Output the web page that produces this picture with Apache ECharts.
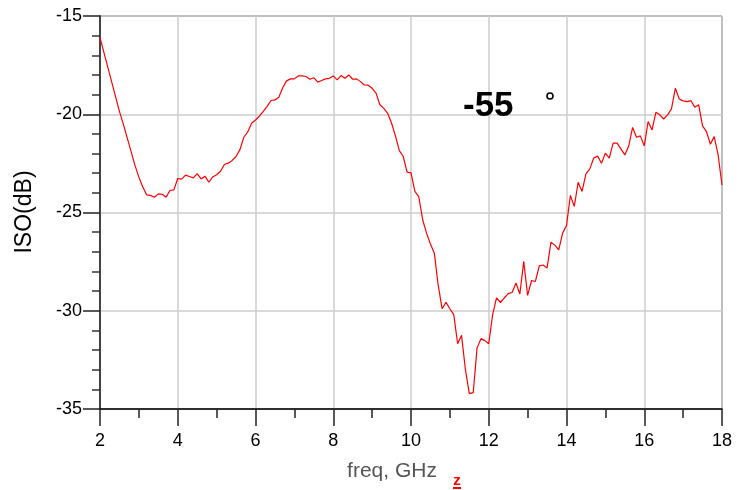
<!DOCTYPE html>
<html>
<head>
<meta charset="utf-8">
<script src="https://cdn.jsdelivr.net/npm/echarts@6/dist/echarts.min.js"></script>
<style>
html,body{margin:0;padding:0;background:#fff;}
#chart{width:749px;height:490px;}
</style>
</head>
<body>
<div id="chart"></div>
<script>
var freqGHz = [2.0,2.1,2.2,2.3,2.4,2.5,2.6,2.7,2.8,2.9,3.0,3.1,3.2,3.3,3.4,3.5,3.6,3.7,3.8,3.9,
4.0,4.1,4.2,4.3,4.4,4.5,4.6,4.7,4.8,4.9,5.0,5.1,5.2,5.3,5.4,5.5,5.6,5.7,5.8,5.9,
6.0,6.1,6.2,6.3,6.4,6.5,6.6,6.7,6.8,6.9,7.0,7.1,7.2,7.3,7.4,7.5,7.6,7.7,7.8,7.9,
8.0,8.1,8.2,8.3,8.4,8.5,8.6,8.7,8.8,8.9,9.0,9.1,9.2,9.3,9.4,9.5,9.6,9.7,9.8,9.9,
10.0,10.1,10.2,10.3,10.4,10.5,10.6,10.7,10.8,10.9,11.0,11.1,11.2,11.3,11.4,11.5,11.6,11.7,11.8,11.9,
12.0,12.1,12.2,12.3,12.4,12.5,12.6,12.7,12.8,12.9,13.0,13.1,13.2,13.3,13.4,13.5,13.6,13.7,13.8,13.9,
14.0,14.1,14.2,14.3,14.4,14.5,14.6,14.7,14.8,14.9,15.0,15.1,15.2,15.3,15.4,15.5,15.6,15.7,15.8,15.9,
16.0,16.1,16.2,16.3,16.4,16.5,16.6,16.7,16.8,16.9,17.0,17.1,17.2,17.3,17.4,17.5,17.6,17.7,17.8,17.9,18.0];

var isoDB = [-16.1,-16.85,-17.6,-18.35,-19.1,-19.85,-20.5,-21.2,-21.9,-22.6,-23.2,-23.7,-24.1,-24.13,-24.22,-24.05,-24.07,-24.22,-23.88,-23.85,
-23.27,-23.3,-23.1,-23.17,-23.24,-23.02,-23.29,-23.15,-23.46,-23.19,-23.08,-22.9,-22.56,-22.49,-22.35,-22.15,-21.8,-21.17,-20.9,-20.46,
-20.29,-20.1,-19.85,-19.6,-19.3,-19.27,-19.13,-18.65,-18.3,-18.2,-18.2,-18.05,-18.05,-18.08,-18.22,-18.14,-18.37,-18.28,-18.2,-18.17,
-18.05,-18.25,-18.03,-18.17,-18.0,-18.22,-18.2,-18.34,-18.51,-18.52,-18.68,-18.92,-19.52,-19.7,-19.95,-20.46,-21.1,-21.85,-22.15,-22.95,
-22.98,-23.93,-24.19,-25.37,-26.05,-26.6,-27.07,-28.7,-29.9,-29.57,-29.9,-30.2,-31.68,-31.25,-33.0,-34.22,-34.17,-31.89,-31.42,-31.52,
-31.68,-30.2,-29.35,-29.58,-29.35,-29.13,-29.07,-28.59,-29.15,-27.49,-29.22,-28.46,-28.51,-27.72,-27.67,-27.83,-26.51,-26.66,-26.9,-26.05,
-25.66,-24.13,-24.69,-23.46,-23.93,-23.03,-22.78,-22.23,-22.13,-22.49,-21.98,-22.23,-21.47,-21.47,-21.76,-22.07,-21.62,-20.67,-21.17,-21.1,
-21.61,-20.37,-20.8,-19.9,-20.03,-20.24,-20.03,-19.73,-18.68,-19.22,-19.32,-19.36,-19.31,-19.64,-19.52,-20.59,-20.88,-21.52,-21.14,-22.07,-23.6];

var xTicks = [2,4,6,8,10,12,14,16,18];
var yTicks = [-35,-30,-25,-20,-15];
var markerText = '-55';
var xTitle = 'freq, GHz';
var yTitle = 'ISO(dB)';

var points = freqGHz.map(function(f, i){ return [f, isoDB[i]]; });
var FONT = '"Liberation Sans", Arial, Helvetica, sans-serif';

var chart = echarts.init(document.getElementById('chart'), null, {renderer:'canvas'});
chart.setOption({
  animation: false,
  backgroundColor: '#ffffff',
  grid: {left:100, right:27, top:16, bottom:81, show:true, borderColor:'#333', borderWidth:1, backgroundColor:'transparent'},
  xAxis: {
    type:'value', min:xTicks[0], max:xTicks[xTicks.length-1], interval:2,
    axisLine:{show:true, onZero:false, lineStyle:{color:'#000', width:1.5}},
    axisTick:{show:true, length:17, lineStyle:{color:'#222', width:1.5}},
    minorTick:{show:true, splitNumber:2, length:9, lineStyle:{color:'#222', width:1.5}},
    splitLine:{show:true, lineStyle:{color:'#cccccc', width:1.5}},
    axisLabel:{color:'#000', fontSize:18, fontFamily:FONT, margin:23}
  },
  yAxis: {
    type:'value', min:yTicks[0], max:yTicks[yTicks.length-1], interval:5,
    axisLine:{show:true, onZero:false, lineStyle:{color:'#444', width:2}},
    axisTick:{show:true, length:17, lineStyle:{color:'#222', width:1.5}},
    minorTick:{show:true, splitNumber:5, length:8, lineStyle:{color:'#333', width:1.5}},
    splitLine:{show:true, lineStyle:{color:'#cccccc', width:1.5}},
    axisLabel:{color:'#000', fontSize:18, fontFamily:FONT, margin:18}
  },
  series: [{
    type:'line', data:points, showSymbol:false, symbol:'none',
    lineStyle:{color:'#ff0000', width:1.2}, z:3
  }],
  graphic: [
    {type:'text', x:25, y:212, rotation:Math.PI/2, z:100,
     style:{text:yTitle, fill:'#000', font:'23px ' + FONT, textAlign:'center', textVerticalAlign:'middle'}},
    {type:'text', x:392, y:471, z:100,
     style:{text:xTitle, fill:'#555', font:'21px ' + FONT, textAlign:'center', textVerticalAlign:'middle',
            shadowColor:'rgba(0,0,0,0.35)', shadowBlur:2}},
    {type:'text', x:457, y:481, z:100,
     style:{text:'z', fill:'#ff0000', font:'bold 15px ' + FONT, textAlign:'center', textVerticalAlign:'middle'}},
    {type:'line', z:100, shape:{x1:453, y1:488, x2:461, y2:488}, style:{stroke:'#ff0000', lineWidth:2}},
    {type:'text', x:463, y:106, z:100,
     style:{text:markerText, fill:'#000', font:'bold 35px ' + FONT, textAlign:'left', textVerticalAlign:'middle'}},
    {type:'circle', z:100, shape:{cx:550, cy:96, r:3}, style:{fill:'#fff', stroke:'#000', lineWidth:1.6}}
  ]
});
</script>
</body>
</html>
